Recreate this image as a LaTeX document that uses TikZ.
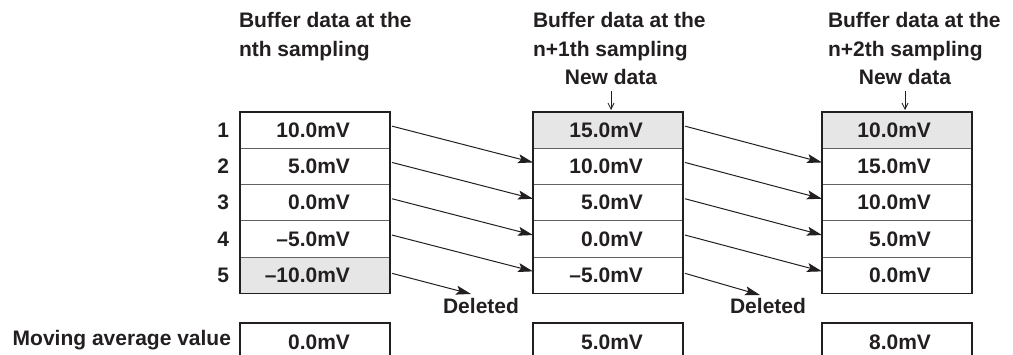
\documentclass[tikz,border=0pt]{standalone}
\usepackage{fontspec}
\setmainfont{Liberation Sans}
\usetikzlibrary{arrows.meta}
\definecolor{ink}{HTML}{231F20}
\definecolor{shade}{HTML}{E6E6E6}
\begin{document}
\begin{tikzpicture}[x=1pt,y=-1pt,
  every node/.style={text=ink, font=\fontsize{21}{29}\selectfont\bfseries, inner sep=0pt, outer sep=0pt},
  cell/.style={draw=ink!70, line width=0.8pt, minimum width=150pt, minimum height=36.3pt},
  newcell/.style={cell, fill=shade},
  frame/.style={draw=ink, line width=1.8pt},
  val/.style={anchor=base east},
  title/.style={anchor=base west, align=left},
  shiftarrow/.style={draw=ink, line width=1pt, -{Stealth[length=15pt,width=9pt,inset=3pt]}},
  newmark/.style={draw=ink, line width=0.8pt, -{Straight Barb[length=6pt,width=6pt]}}
]
\useasboundingbox (0,0) rectangle (1013,355);

% titles
\node[title] (t1) at (239,28) {Buffer data at the};
\node[title] (t1b) at (239,57) {nth sampling};
\node[title] (t2) at (533,28) {Buffer data at the};
\node[title] (t2b) at (533,57) {n+1th sampling};
\node[title] (t3) at (828,28) {Buffer data at the};
\node[title] (t3b) at (828,57) {n+2th sampling};
\node[anchor=base] (n2) at (611,85) {New data};
\node[anchor=base] (n3) at (905,85) {New data};

% row numbers
\foreach \i/\y in {1/130.15,2/166.45,3/202.75,4/239.05,5/275.35}{
  \node[anchor=base east] (r\i) at (229,\y+7) {\i};
}

% column A
\foreach \i/\y in {1/130.15,2/166.45,3/202.75,4/239.05}{
  \node[cell] (a\i) at (315,\y) {};
}
\node[newcell] (a5) at (315,275.35) {};
% column B
\node[newcell] (b1) at (608,130.15) {};
\foreach \i/\y in {2/166.45,3/202.75,4/239.05,5/275.35}{
  \node[cell] (b\i) at (608,\y) {};
}
% column C
\node[newcell] (c1) at (897,130.15) {};
\foreach \i/\y in {2/166.45,3/202.75,4/239.05,5/275.35}{
  \node[cell] (c\i) at (897,\y) {};
}
% frames
\draw[frame] (a1.north west) rectangle (a5.south east);
\draw[frame] (b1.north west) rectangle (b5.south east);
\draw[frame] (c1.north west) rectangle (c5.south east);

% values
\node[val] (va1) at ([xshift=-40pt,yshift=-7pt]a1.east) {10.0mV};
\node[val] (va2) at ([xshift=-40pt,yshift=-7pt]a2.east) {5.0mV};
\node[val] (va3) at ([xshift=-40pt,yshift=-7pt]a3.east) {0.0mV};
\node[val] (va4) at ([xshift=-40pt,yshift=-7pt]a4.east) {\textendash5.0mV};
\node[val] (va5) at ([xshift=-40pt,yshift=-7pt]a5.east) {\textendash10.0mV};
\node[val] (vb1) at ([xshift=-40pt,yshift=-7pt]b1.east) {15.0mV};
\node[val] (vb2) at ([xshift=-40pt,yshift=-7pt]b2.east) {10.0mV};
\node[val] (vb3) at ([xshift=-40pt,yshift=-7pt]b3.east) {5.0mV};
\node[val] (vb4) at ([xshift=-40pt,yshift=-7pt]b4.east) {0.0mV};
\node[val] (vb5) at ([xshift=-40pt,yshift=-7pt]b5.east) {\textendash5.0mV};
\node[val] (vc1) at ([xshift=-41pt,yshift=-7pt]c1.east) {10.0mV};
\node[val] (vc2) at ([xshift=-41pt,yshift=-7pt]c2.east) {15.0mV};
\node[val] (vc3) at ([xshift=-41pt,yshift=-7pt]c3.east) {10.0mV};
\node[val] (vc4) at ([xshift=-41pt,yshift=-7pt]c4.east) {5.0mV};
\node[val] (vc5) at ([xshift=-41pt,yshift=-7pt]c5.east) {0.0mV};

% new data marks
\coordinate (s2) at (611,91);
\coordinate (s3) at (905,91);
\draw[newmark] (s2) -- ([yshift=2pt]b1.north -| s2);
\draw[newmark] (s3) -- ([yshift=2pt]c1.north -| s3);

% shift arrows
\foreach \i/\j in {1/2,2/3,3/4,4/5}{
  \draw[shiftarrow] ([xshift=2pt,yshift=4pt]a\i.east) -- ([yshift=4pt]b\j.west);
  \draw[shiftarrow] ([xshift=2pt,yshift=4pt]b\i.east) -- ([yshift=4pt]c\j.west);
}
\coordinate (d1) at (471,294);
\coordinate (d2) at (760,295);
\draw[shiftarrow] ([xshift=2pt,yshift=2pt]a5.east) -- (d1);
\draw[shiftarrow] ([xshift=2pt,yshift=2pt]b5.east) -- (d2);
\node[anchor=base] (del1) at (481,314) {Deleted};
\node[anchor=base] (del2) at (768,314) {Deleted};

% moving averages
\node[anchor=base east] (mav) at (231,346) {Moving average value};
\node[cell, frame, minimum height=50pt, anchor=north] (m1) at (315,323) {};
\node[cell, frame, minimum height=50pt, anchor=north] (m2) at (608,323) {};
\node[cell, frame, minimum height=50pt, anchor=north] (m3) at (897,323) {};
\node[anchor=base east] (vm1) at ([xshift=-40pt]m1.north east |- 0,350) {0.0mV};
\node[anchor=base east] (vm2) at ([xshift=-40pt]m2.north east |- 0,350) {5.0mV};
\node[anchor=base east] (vm3) at ([xshift=-41pt]m3.north east |- 0,350) {8.0mV};
\end{tikzpicture}
\end{document}
